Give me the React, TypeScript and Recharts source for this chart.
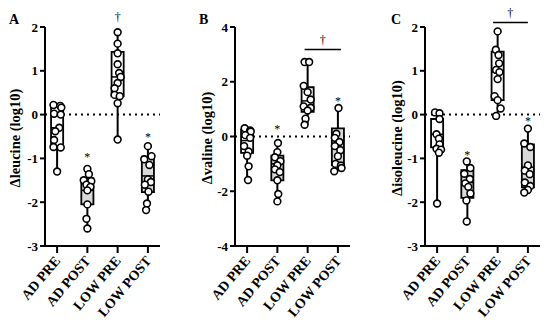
import React from "react"
import { ComposedChart, XAxis, YAxis, Scatter, ReferenceLine, ReferenceArea, ReferenceDot } from "recharts"

const groups = ["AD PRE", "AD POST", "LOW PRE", "LOW POST"]
const xTicks = [1, 2, 3, 4]

// Δleucine
const leuValues = [
  [0.22, 0.2, 0.16, 0.02, 0.0, -0.3, -0.38, -0.58, -0.74, -0.75, -1.3],
  [-1.24, -1.36, -1.5, -1.52, -1.6, -1.65, -1.73, -2.05, -2.38, -2.6],
  [1.88, 1.62, 1.4, 1.15, 0.95, 0.86, 0.72, 0.6, 0.45, 0.42, 0.26, -0.57],
  [-0.72, -0.95, -1.02, -1.15, -1.48, -1.54, -1.6, -1.76, -2.03, -2.18],
]
const leuJitter = [
  [-0.12, 0.1, 0.14, -0.1, 0.12, 0.07, -0.06, -0.1, -0.12, 0.12, 0],
  [0, 0.05, -0.12, 0.13, -0.03, 0.1, 0, 0, -0.03, 0],
  [0, 0, 0, 0, 0.05, 0.1, 0, -0.1, -0.1, 0.07, 0, 0],
  [0, 0.12, -0.12, 0.05, 0, 0.1, -0.1, 0.02, -0.03, -0.06],
]
const leuQ3 = [0.22, -1.45, 1.43, -0.96]
const leuMed = [-0.3, -1.73, 0.86, -1.4]
const leuQ1 = [-0.75, -2.05, 0.42, -1.77]
const leuMarks = [
  { x: 2, y: -0.97, t: "*" },
  { x: 3, y: 2.24, t: "†" },
  { x: 4, y: -0.51, t: "*" },
]

// Δvaline
const valValues = [
  [0.3, 0.22, 0.18, 0.05, -0.05, -0.35, -0.55, -0.7, -1.09, -1.59],
  [-0.24, -0.57, -0.76, -0.9, -1.05, -1.2, -1.3, -1.6, -2.1, -2.37],
  [2.72, 2.72, 1.85, 1.62, 1.35, 1.1, 1.05, 0.95, 0.65, 0.43],
  [1.04, 0.1, -0.05, -0.2, -0.35, -0.5, -0.72, -1.0, -1.06, -1.15, -1.27],
]
const valJitter = [
  [-0.08, 0.1, 0.12, -0.06, 0.1, -0.1, 0.05, 0, 0.05, 0.03],
  [0.02, 0, -0.08, 0.1, 0, -0.08, 0.08, 0, 0.03, 0],
  [-0.1, 0.05, -0.13, 0, 0.1, -0.13, 0.1, 0, -0.07, -0.1],
  [0.02, -0.05, -0.1, 0.05, -0.1, 0.08, 0, -0.08, 0.1, 0.12, -0.12],
]
const valQ3 = [0.25, -0.7, 1.8, 0.3]
const valMed = [-0.15, -1.0, 1.3, -0.4]
const valQ1 = [-0.6, -1.6, 0.9, -1.05]
const valMarks = [
  { x: 2, y: 0.28, t: "*" },
  { x: 4, y: 1.32, t: "*" },
  { x: 3.5, y: 3.55, t: "†" },
]
const valBracket = { x1: 2.9, x2: 4.1, y: 3.18 }

// Δisoleucine
const isoValues = [
  [0.05, 0.03, -0.1, -0.45, -0.55, -0.68, -0.78, -0.8, -0.87, -2.03],
  [-1.07, -1.22, -1.35, -1.47, -1.57, -1.65, -1.8, -1.96, -2.44],
  [1.9, 1.48, 1.36, 1.17, 1.02, 0.97, 0.81, 0.42, 0.33, 0.14, -0.03],
  [-0.32, -0.66, -0.74, -1.16, -1.28, -1.36, -1.55, -1.63, -1.72, -1.78],
]
const isoJitter = [
  [-0.07, 0.08, 0.08, -0.02, 0.06, 0.08, -0.02, 0.13, 0.06, 0],
  [-0.02, 0.1, -0.1, 0.08, -0.07, 0.03, 0.1, -0.03, -0.02],
  [0, -0.06, 0.03, 0.05, -0.05, 0.06, 0, -0.1, 0, 0.1, -0.05],
  [0, -0.12, 0.08, 0, -0.1, 0.06, -0.1, 0.08, 0, -0.12],
]
const isoQ3 = [-0.1, -1.27, 1.44, -0.68]
const isoMed = [-0.45, -1.55, 0.97, -1.2]
const isoQ1 = [-0.75, -1.9, 0.33, -1.66]
const isoMarks = [
  { x: 2, y: -0.91, t: "*" },
  { x: 4, y: -0.13, t: "*" },
  { x: 3.42, y: 2.32, t: "†" },
]
const isoBracket = { x1: 2.85, x2: 4.0, y: 2.1 }

const FONT = '"Liberation Serif", "Times New Roman", Tinos, serif'
const boxFills = ["#ffffff", "#d9d9d9", "#ffffff", "#d9d9d9"]

const XTick = (props: any) => {
  const { x, y, payload } = props
  return (
    <text
      x={x + 4}
      y={y + 6}
      textAnchor="end"
      transform={`rotate(-50, ${x + 4}, ${y + 6})`}
      fontFamily={FONT}
      fontWeight="bold"
      fontSize={14}
      fill="#000"
    >
      {groups[payload.value - 1]}
    </text>
  )
}

const Dot = (props: any) => (
  <circle cx={props.cx} cy={props.cy} r={3.4} fill="#fff" stroke="#000" strokeWidth={1.6} />
)

interface PanelProps {
  left: number
  width: number
  letter: string
  letterX: number
  label: string
  labelX: number
  yDomain: [number, number]
  yTicks: number[]
  values: number[][]
  jitter: number[][]
  q1: number[]
  med: number[]
  q3: number[]
  marks: { x: number; y: number; t: string }[]
  bracket?: { x1: number; x2: number; y: number }
}

function Panel(p: PanelProps) {
  const points = p.values.flatMap((vals, g) =>
    vals.map((v, i) => ({ x: g + 1 + p.jitter[g][i], y: v }))
  )
  return (
    <>
      <div
        style={{
          position: "absolute",
          left: p.letterX,
          top: 12,
          fontFamily: FONT,
          fontWeight: "bold",
          fontSize: 14,
        }}
      >
        {p.letter}
      </div>
      <div
        style={{
          position: "absolute",
          left: p.labelX,
          top: 138,
          transform: "translate(-50%, -50%) rotate(-90deg)",
          whiteSpace: "nowrap",
          fontFamily: FONT,
          fontWeight: "bold",
          fontSize: 14.5,
        }}
      >
        {p.label}
      </div>
      <div style={{ position: "absolute", left: p.left, top: 0 }}>
        <ComposedChart
          width={p.width}
          height={331}
          margin={{ top: 27, right: p.width - 45 - 115, bottom: 0, left: 0 }}
        >
          <XAxis
            type="number"
            dataKey="x"
            domain={[0.6, 4.4]}
            allowDataOverflow
            ticks={xTicks}
            height={85}
            axisLine={{ stroke: "#000", strokeWidth: 2 }}
            tickLine={{ stroke: "#000", strokeWidth: 2 }}
            tickSize={7}
            tick={<XTick />}
          />
          <YAxis
            type="number"
            dataKey="y"
            domain={p.yDomain}
            allowDataOverflow
            ticks={p.yTicks}
            width={45}
            axisLine={{ stroke: "#000", strokeWidth: 2 }}
            tickLine={{ stroke: "#000", strokeWidth: 2 }}
            tickSize={5}
            tick={{ fill: "#000", fontFamily: FONT, fontWeight: "bold", fontSize: 13 }}
          />
          <ReferenceLine y={0} stroke="#000" strokeWidth={2} strokeDasharray="2 4" />
          {groups.map((g, i) => {
            const vals = p.values[i]
            const lo = Math.min(...vals)
            const hi = Math.max(...vals)
            const x = i + 1
            return (
              <React.Fragment key={g}>
                <ReferenceLine
                  segment={[{ x, y: lo }, { x, y: p.q1[i] }]}
                  stroke="#000"
                  strokeWidth={2}
                />
                <ReferenceLine
                  segment={[{ x, y: p.q3[i] }, { x, y: hi }]}
                  stroke="#000"
                  strokeWidth={2}
                />
                <ReferenceArea
                  x1={x - 0.2}
                  x2={x + 0.2}
                  y1={p.q1[i]}
                  y2={p.q3[i]}
                  fill={boxFills[i]}
                  fillOpacity={1}
                  stroke="#000"
                  strokeWidth={1.8}
                />
                <ReferenceLine
                  segment={[{ x: x - 0.2, y: p.med[i] }, { x: x + 0.2, y: p.med[i] }]}
                  stroke="#000"
                  strokeWidth={1.5}
                />
              </React.Fragment>
            )
          })}
          {p.bracket && (
            <ReferenceLine
              segment={[{ x: p.bracket.x1, y: p.bracket.y }, { x: p.bracket.x2, y: p.bracket.y }]}
              stroke="#000"
              strokeWidth={1.5}
              ifOverflow="visible"
            />
          )}
          <Scatter data={points} shape={<Dot />} isAnimationActive={false} />
          {p.marks.map((m, i) => (
            <ReferenceDot
              key={i}
              x={m.x}
              y={m.y}
              r={0}
              fill="none"
              stroke="none"
              ifOverflow="visible"
              label={{
                value: m.t,
                position: "center",
                fill: "#000",
                fontFamily: FONT,
                fontSize: 12,
              }}
            />
          ))}
        </ComposedChart>
      </div>
    </>
  )
}

export default function App() {
  return (
    <div style={{ position: "absolute", left: 0, top: 0, width: 550, height: 331, background: "#fff" }}>
      <Panel
        left={0}
        width={175}
        letter="A"
        letterX={9}
        label="Δleucine (log10)"
        labelX={15}
        yDomain={[-3, 2]}
        yTicks={[-3, -2, -1, 0, 1, 2]}
        values={leuValues}
        jitter={leuJitter}
        q1={leuQ1}
        med={leuMed}
        q3={leuQ3}
        marks={leuMarks}
      />
      <Panel
        left={190}
        width={175}
        letter="B"
        letterX={199}
        label="Δvaline (log10)"
        labelX={207}
        yDomain={[-4, 4]}
        yTicks={[-4, -2, 0, 2, 4]}
        values={valValues}
        jitter={valJitter}
        q1={valQ1}
        med={valMed}
        q3={valQ3}
        marks={valMarks}
        bracket={valBracket}
      />
      <Panel
        left={380}
        width={170}
        letter="C"
        letterX={391}
        label="Δisoleucine (log10)"
        labelX={397}
        yDomain={[-3, 2]}
        yTicks={[-3, -2, -1, 0, 1, 2]}
        values={isoValues}
        jitter={isoJitter}
        q1={isoQ1}
        med={isoMed}
        q3={isoQ3}
        marks={isoMarks}
        bracket={isoBracket}
      />
    </div>
  )
}
